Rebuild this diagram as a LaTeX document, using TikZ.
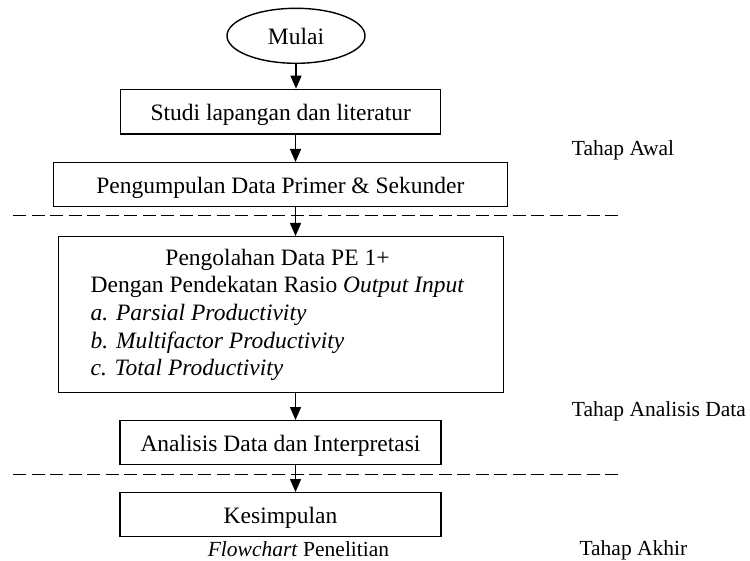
\documentclass[tikz,border=0pt]{standalone}
\usepackage{fontspec}
\setmainfont{Liberation Serif}
\usetikzlibrary{shapes.geometric,arrows.meta}
\begin{document}
\begin{tikzpicture}[x=1pt,y=-1pt,
  boxtext/.style={font=\fontsize{23.5}{27.7}\selectfont},
  procbox/.style={draw, line width=1.4pt, rectangle, inner sep=0pt, boxtext, text height=18.6pt, text depth=1.2pt},
  startnode/.style={draw, line width=1.4pt, ellipse, inner sep=0pt, boxtext, text height=18.6pt, text depth=1.2pt},
  flowarrow/.style={line width=1.4pt, -{Triangle[width=11pt,length=13pt]}},
  phaseline/.style={line width=1.4pt, dash pattern=on 13pt off 5.5pt},
  sidelabel/.style={font=\fontsize{21.5}{25}\selectfont, anchor=base west, inner sep=0pt},
  captext/.style={font=\fontsize{21.5}{25}\selectfont, anchor=base, inner sep=0pt}]
\useasboundingbox (0,0) rectangle (750,561);
\node[startnode, minimum width=138pt, minimum height=55pt] (mulai) at (296,35.8) {Mulai};
\node[procbox, minimum width=320pt, minimum height=44.7pt] (studi) at (280.7,111.7) {Studi lapangan dan literatur};
\node[procbox, minimum width=454pt, minimum height=44pt] (kumpul) at (280.3,184.7) {Pengumpulan Data Primer \& Sekunder};
\node[draw, line width=1.4pt, rectangle, minimum width=445pt, minimum height=156pt] (olah) at (280.8,314.7) {};
\node[boxtext, inner sep=0pt] (olahtext) at (277.5,315) {\begin{tabular}{@{}l@{}}\multicolumn{1}{@{}c@{}}{Pengolahan Data PE 1+}\\ Dengan Pendekatan Rasio \textit{Output Input}\\ \textit{a. Parsial Productivity}\\ \textit{b. Multifactor Productivity}\\ \textit{c. Total Productivity}\end{tabular}};
\node[procbox, minimum width=321pt, minimum height=43.6pt] (analisis) at (280.5,442.5) {Analisis Data dan Interpretasi};
\node[procbox, minimum width=321pt, minimum height=44pt] (simpul) at (280.5,514.7) {Kesimpulan};
\node[captext] (caption) at (298.5,556) {\textit{Flowchart} Penelitian};
\node[sidelabel] (awal) at (571.7,156) {Tahap Awal};
\node[sidelabel] (analisislbl) at (571.7,416) {Tahap Analisis Data};
\node[sidelabel] (akhir) at (579.3,555.5) {Tahap Akhir};
\coordinate (ax) at (295.5,0);
\draw[flowarrow] (mulai.south) -- (mulai.south |- studi.north);
\draw[flowarrow] (ax |- studi.south) -- (ax |- kumpul.north);
\draw[flowarrow] (ax |- kumpul.south) -- (ax |- olah.north);
\draw[flowarrow] (ax |- olah.south) -- (ax |- analisis.north);
\draw[flowarrow] (ax |- analisis.south) -- (ax |- simpul.north);
\draw[phaseline] (13,215.5) -- (620,215.5);
\draw[phaseline] (13,474.5) -- (620,474.5);
\end{tikzpicture}
\end{document}
